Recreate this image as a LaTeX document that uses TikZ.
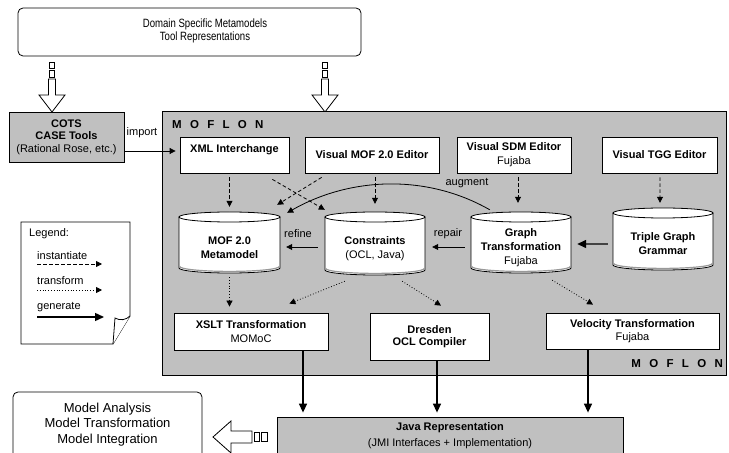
\documentclass[tikz,border=0pt]{standalone}
\usepackage{fontspec}
\setmainfont{Liberation Sans}
\newfontfamily\narrowsans[FakeStretch=0.8]{Liberation Sans}
\usetikzlibrary{arrows.meta,calc}
\definecolor{panelgray}{RGB}{192,192,192}

% vertical storage cylinder: name, centre x, top y, bottom y, half width, text
\newcommand\drawcyl[6]{%
  \pgfmathsetmacro\cylL{#2-#5}%
  \pgfmathsetmacro\cylR{#2+#5}%
  \pgfmathsetmacro\cylT{#3+5}%
  \pgfmathsetmacro\cylB{#4-5}%
  \pgfmathsetmacro\cylM{(#3+#4)/2}%
  \pgfmathsetmacro\cylH{#4-#3}%
  \pgfmathsetmacro\cylW{2*#5}%
  \draw[outline, fill=white] (\cylL,\cylT) -- (\cylL,\cylB)
    arc[start angle=180, end angle=360, x radius=#5bp, y radius=5bp] -- (\cylR,\cylT);
  \draw[gray!80, line width=1.2bp] (\cylL+0.6,\cylB-1.6)
    arc[start angle=180, end angle=360, x radius=#5bp-0.6bp, y radius=5bp];
  \draw[outline, fill=white] (#2,\cylT) ellipse[x radius=#5bp, y radius=5bp];
  \node[inner sep=0, minimum width=\cylW bp, minimum height=\cylH bp] (#1) at (#2,\cylM) {};
  \node[txt] (#1-text) at (#2,\cylM+5) {#6};
}

% hollow block arrow pointing down, tip at y=112
\newcommand\blockdown{%
  \draw[outline, fill=white] (-2.5,62) rectangle (2.5,68.5);
  \draw[outline, fill=white] (-2.5,70.5) rectangle (2.5,77);
  \draw[outline, fill=white] (-3.5,79) -- (-3.5,95) -- (-13,95) -- (0,112)
    -- (13,95) -- (3.5,95) -- (3.5,79) -- cycle;
}

\newcommand\moflonmark{M\hspace{8.3bp}O\hspace{8.3bp}F\hspace{8.3bp}L\hspace{8.3bp}O\hspace{8.3bp}N}

\tikzset{
  outline/.style={draw=black, line width=0.8bp},
  txt/.style={font=\fontsize{11bp}{14bp}\selectfont, align=center, inner sep=0},
  whitebox/.style={outline, fill=white, inner sep=0, align=center,
    font=\fontsize{11bp}{14bp}\selectfont},
  graybox/.style={whitebox, fill=panelgray},
  conn/.style={line width=0.8bp, -{Triangle[length=6bp,width=6bp]}},
  inst/.style={conn, dash pattern=on 3.5bp off 2.5bp},
  trans/.style={conn, dash pattern=on 0.8bp off 2bp},
  gen/.style={line width=1.4bp, -{Triangle[length=9bp,width=8bp]}},
  markfont/.style={font=\fontsize{11.5bp}{14bp}\selectfont\bfseries, inner sep=0},
}

\begin{document}
\begin{tikzpicture}[x=1bp, y=-1bp]
\clip (0,0) rectangle (729,453);
\fill[white] (0,0) rectangle (729,453);

% source of metamodels
\node[whitebox, rounded corners=5bp, minimum width=343bp, minimum height=48bp] (domain) at (189.5,32) {};
\node[txt, font=\narrowsans\fontsize{12bp}{13.5bp}\selectfont] (domaintext) at (205,31)
  {Domain Specific Metamodels\\Tool Representations};
\begin{scope}[shift={(52,0)}]\blockdown\end{scope}
\begin{scope}[shift={(325,0)}]\blockdown\end{scope}

% external CASE tools
\node[graybox, minimum width=115bp, minimum height=50bp,
      font=\fontsize{11bp}{12.5bp}\selectfont] (cots) at (66.5,137)
  {\textbf{COTS}\\\textbf{CASE Tools}\\(Rational Rose, etc.)};

% MOFLON frame
\node[graybox, line width=1bp, minimum width=563bp, minimum height=263bp] (moflon) at (444.5,243.5) {};
\node[markfont, anchor=base west] (moflontop) at (172,129) {\moflonmark};
\node[markfont, anchor=base east] (moflonbot) at (723,367) {\moflonmark};

% editors
\node[whitebox, minimum width=109bp, minimum height=36bp] (xml) at (234.5,155) {};
\node[txt, font=\fontsize{11bp}{14bp}\selectfont\bfseries] (xmltext) at (234.5,150) {XML Interchange};
\node[whitebox, minimum width=134bp, minimum height=36bp] (vmof) at (372,155) {\textbf{Visual MOF 2.0 Editor}};
\node[whitebox, minimum width=114bp, minimum height=36bp] (vsdm) at (514,155) {\textbf{Visual SDM Editor}\\Fujaba};
\node[whitebox, minimum width=115bp, minimum height=36bp] (vtgg) at (659.5,155) {\textbf{Visual TGG Editor}};

% repositories
\drawcyl{mof}{229.5}{212}{273}{50.5}{\textbf{MOF 2.0}\\\textbf{Metamodel}}
\drawcyl{cons}{375}{212}{275}{50}{\textbf{Constraints}\\(OCL, Java)}
\drawcyl{gt}{521}{212}{273}{50}{\textbf{Graph}\\\textbf{Transformation}\\Fujaba}
\drawcyl{tgg}{663}{208}{270}{50}{\textbf{Triple Graph}\\\textbf{Grammar}}

% code generators
\node[whitebox, minimum width=154bp, minimum height=37bp] (xslt) at (251,331.5) {\textbf{XSLT Transformation}\\MOMoC};
\node[whitebox, minimum width=119bp, minimum height=47bp, font=\fontsize{11bp}{12.5bp}\selectfont] (dres) at (429.5,336.5) {\textbf{Dresden}\\\textbf{OCL Compiler}};
\node[whitebox, minimum width=173bp, minimum height=36bp, font=\fontsize{11bp}{13bp}\selectfont] (vel) at (632.5,331) {\textbf{Velocity Transformation}\\Fujaba};

% generated code
\node[graybox, minimum width=346bp, minimum height=53bp] (java) at (450,443.5) {};
\node[txt, font=\fontsize{11bp}{16bp}\selectfont] (javatext) at (450,436) {\textbf{Java Representation}\\(JMI Interfaces + Implementation)};

% applications
\node[whitebox, rounded corners=5bp, minimum width=189bp, minimum height=78bp] (apps) at (107.5,431) {};
\node[txt, font=\fontsize{13bp}{15.5bp}\selectfont] (appstext) at (107.5,424.5) {Model Analysis\\Model Transformation\\Model Integration};
\draw[outline, fill=white] (254,432.5) rectangle (259.5,441.5);
\draw[outline, fill=white] (261.5,432.5) rectangle (267,441.5);
\draw[outline, fill=white] (252,431) -- (231,431) -- (231,421) -- (213,437)
  -- (231,453) -- (231,443) -- (252,443) -- cycle;

% legend sheet with turned corner
\node[inner sep=0, minimum width=109bp, minimum height=122bp] (legend) at (75.5,283) {};
\draw[outline, fill=white] (21,222) -- (130,222) -- (130,316) -- (113,344) -- (21,344) -- cycle;
\draw[outline, fill=white] (113,344) -- (115,318) .. controls (120,321) and (126,320) .. (130,316);
\node[txt, anchor=base west] (legtitle) at (29,237) {Legend:};
\node[txt, anchor=base west] (leginst) at (37,260) {instantiate};
\node[txt, anchor=base west] (legtrans) at (37,285) {transform};
\node[txt, anchor=base west] (leggen) at (37,310) {generate};
\coordinate (li1) at (37,264); \coordinate (li2) at (102,264);
\coordinate (lt1) at (37,290); \coordinate (lt2) at (102,290);
\coordinate (lg1) at (37,317); \coordinate (lg2) at (104,317);
\draw[inst] (li1) -- (li2);
\draw[trans] (lt1) -- (lt2);
\draw[gen] (lg1) -- (lg2);

% import
\draw[conn] ($(cots.east)+(0,14)$) -- ($(xml.west)+(-4,-4)$);
\node[txt] (importlbl) at (142,133) {import};

% instantiate
\draw[inst] ($(xml.south -| mof.north)+(0,4)$) -- ($(mof.north)+(0,-5)$);
\draw[inst] ($(xml.south east)+(-17,6)$) -- ($(cons.north west)+(0,-2)$);
\draw[inst] ($(vmof.south west)+(17,4)$) -- ($(mof.north east)+(-3,-7)$);
\draw[inst] ($(vmof.south -| cons.north)+(0,4)$) -- ($(cons.north)+(0,-8)$);
\draw[inst] ($(vsdm.south)+(4,4)$) -- ($(gt.north)+(-3,-9)$);
\draw[inst] ($(vtgg.south)+(0.5,4)$) -- ($(tgg.north)+(-3,-5)$);

% augment, refine, repair
\draw[conn] ($(gt.north west)+(19,-2)$) .. controls +(-63,-36) and +(63,-36) .. ($(mof.north east)+(7,1)$);
\node[txt] (augmentlbl) at (467,183) {augment};
\draw[conn] ($(cons.west)+(-7,3.5)$) -- ($(mof.east)+(6,4.5)$);
\node[txt] (refinelbl) at (298,234) {refine};
\draw[conn] ($(gt.west)+(-6,4.5)$) -- ($(cons.east)+(7,3.5)$);
\node[txt] (repairlbl) at (448,234) {repair};
\draw[gen] ($(tgg.west)+(-5,5)$) -- ($(gt.east)+(6,1.5)$);

% transform
\draw[trans] ($(mof.south)+(0,4)$) -- ($(xslt.north -| mof.south)+(0,-6)$);
\draw[trans] ($(cons.south west)+(20,6)$) -- ($(xslt.north east)+(-39,-9)$);
\draw[trans] ($(cons.south east)+(-23,6)$) -- ($(dres.north)+(11.5,-7)$);
\draw[trans] ($(gt.south east)+(-19,7)$) -- ($(vel.north)+(-39.5,-8)$);

% generate
\draw[gen] ($(xslt.south)+(52,0)$) -- ($(java.north -| xslt.south)+(52,-4)$);
\draw[gen] ($(dres.south)+(7.5,0)$) -- ($(java.north -| dres.south)+(7.5,-4)$);
\draw[gen] ($(vel.south)+(-44.5,0)$) -- ($(java.north -| vel.south)+(-44.5,-4)$);
\end{tikzpicture}
\end{document}
